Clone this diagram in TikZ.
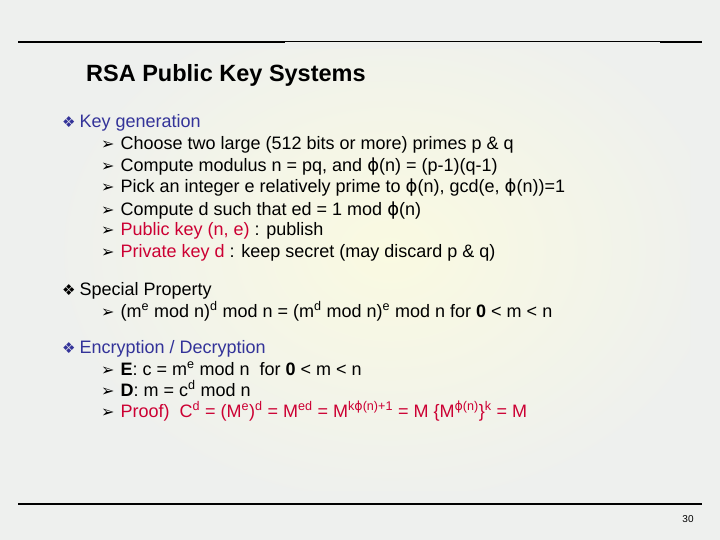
\documentclass[tikz,border=0pt]{standalone}
\usepackage{fontspec}
\setmainfont{Liberation Sans}
\newfontfamily\dv{DejaVu Sans}
\definecolor{bg}{RGB}{238,240,238}
\definecolor{glow}{RGB}{250,250,225}
\definecolor{kblue}{RGB}{51,51,153}
\definecolor{kred}{RGB}{204,0,51}
\newcommand{\dia}{{\dv\fontsize{15}{15}\selectfont ❖}}
\newcommand{\arr}{{\dv\fontsize{16}{16}\selectfont ➢}}
\newcommand{\ph}{{\dv ϕ}}
\newcommand{\sps}[1]{\textsuperscript{#1}}
\tikzset{x=1pt,y=-1pt,
  tx/.style={anchor=base west,inner sep=0pt,font=\fontsize{18}{20}\selectfont},
  ttl/.style={anchor=base west,inner sep=0pt,font=\bfseries\fontsize{23.5}{26}\selectfont}}
\begin{document}
\begin{tikzpicture}
\useasboundingbox (0,0) rectangle (720,540);
\fill[bg] (0,0) rectangle (720,540);
\begin{scope}
\clip (50,50) rectangle (690,490);
\shade[inner color=glow,outer color=bg] (390,250) ellipse (340 and 260);
\end{scope}
\draw[line width=1.6pt] (18,42) -- (285,42);
\draw[line width=1pt] (285,42) -- (660,42);
\draw[line width=1.6pt] (660,42) -- (702,42);
\draw[line width=1.5pt] (18,504) -- (702,504);
\node[ttl] (t) at (86,82) {RSA Public Key Systems};
\node[tx,kblue] (b1) at (62,128) {\dia\hspace{4pt}Key generation};
\node[tx] (s1) at (101,150) {\arr\hspace{6pt}Choose two large (512 bits or more) primes p \& q};
\node[tx] (s2) at (101,172) {\arr\hspace{6pt}Compute modulus n = pq, and \ph(n) = (p-1)(q-1)};
\node[tx] (s3) at (101,193) {\arr\hspace{6pt}Pick an integer e relatively prime to \ph(n), gcd(e, \ph(n))=1};
\node[tx] (s4) at (101,215) {\arr\hspace{6pt}Compute d such that ed = 1 mod \ph(n)};
\node[tx] (s5) at (101,236) {\arr\hspace{6pt}\textcolor{kred}{Public key (n, e)} : publish};
\node[tx] (s6) at (101,258) {\arr\hspace{6pt}\textcolor{kred}{Private key d} : keep secret (may discard p \& q)};
\node[tx] (b2) at (62,295) {\dia\hspace{4pt}Special Property};
\node[tx] (s7) at (101,317) {\arr\hspace{6pt}(m\sps{e} mod n)\sps{d} mod n = (m\sps{d} mod n)\sps{e} mod n for \textbf{0} < m < n};
\node[tx,kblue] (b3) at (62,353) {\dia\hspace{4pt}Encryption / Decryption};
\node[tx] (s8) at (101,375) {\arr\hspace{6pt}\textbf{E}: c = m\sps{e} mod n\ \ for \textbf{0} < m < n};
\node[tx] (s9) at (101,396) {\arr\hspace{6pt}\textbf{D}: m = c\sps{d} mod n};
\node[tx,kred] (s10) at (101,417) {\textcolor{black}{\arr}\hspace{6pt}Proof)\ \ C\sps{d} = (M\sps{e})\sps{d} = M\sps{ed} = M\sps{k\ph(n)+1} = M \{M\sps{\ph(n)}\}\sps{k} = M};
\node[anchor=base,inner sep=0pt,font=\fontsize{10}{12}\selectfont] (pg) at (688,522) {30};
\end{tikzpicture}
\end{document}
